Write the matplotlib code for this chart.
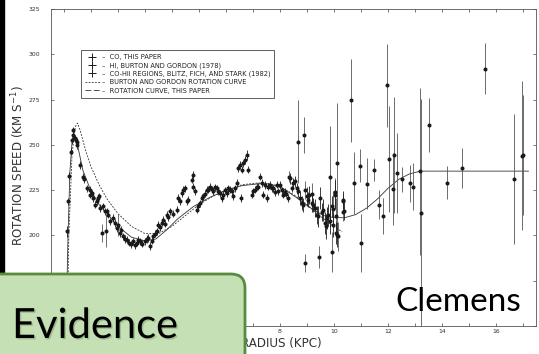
import matplotlib
matplotlib.use("Agg")
import matplotlib.pyplot as plt
from matplotlib.patches import FancyBboxPatch, Rectangle
from matplotlib.lines import Line2D
import matplotlib.patheffects as pe

# CO, this paper (R in kpc, V in km/s, error)
co_r = [0.10, 0.16, 0.19, 0.25, 0.31, 0.33, 0.35, 0.41, 0.44, 0.47,
        0.50, 0.59, 0.72, 0.75, 0.84, 0.96, 0.98, 1.02, 1.09, 1.15,
        1.21, 1.25, 1.28, 1.33, 1.46, 1.52, 1.58, 1.64, 1.70, 1.83,
        1.89, 1.95, 2.07, 2.13, 2.20, 2.26, 2.32, 2.40, 2.48, 2.57,
        2.62, 2.69, 2.75, 2.81, 2.90, 3.00, 3.06, 3.12, 3.19, 3.25,
        3.31, 3.37, 3.43, 3.49, 3.55, 3.62, 3.68, 3.74, 3.80, 3.86,
        3.93, 4.05, 4.17, 4.23, 4.30, 4.36, 4.42, 4.48, 4.54, 4.60,
        4.73, 4.79, 4.79, 4.85, 4.91, 4.97, 5.04, 5.10, 5.16, 5.22,
        5.28, 5.35, 5.41, 5.47, 5.53, 5.59, 5.65, 5.72, 5.78, 5.84,
        5.90, 5.96, 6.03, 6.09, 6.15, 6.21, 6.27, 6.33, 6.40, 6.46,
        6.52, 6.55, 6.58, 6.64, 6.70, 6.79, 6.83, 6.95, 7.01, 7.07,
        7.14, 7.20, 7.26, 7.32, 7.38, 7.44, 7.51, 7.57, 7.63, 7.69,
        7.75, 7.81, 7.88, 7.94, 8.00, 8.06, 8.12, 8.18, 8.24, 8.31,
        8.37, 8.43, 8.49, 8.56, 8.62, 8.68, 8.74, 8.80, 8.86, 8.99,
        9.05, 9.09, 9.17, 9.23, 9.30, 9.36, 9.42, 9.48, 9.54, 9.60,
        9.67, 9.70, 9.73, 9.79, 9.85, 9.91, 9.97, 10.04, 10.07, 10.10,
        10.32, 10.37]
co_v = [202.3, 218.8, 233.0, 246.2, 252.6, 255.4, 258.1, 253.6, 252.6, 251.7,
        249.9, 238.9, 232.5, 231.0, 226.1, 225.2, 222.4, 223.3, 220.6, 216.9,
        218.8, 220.6, 221.5, 215.1, 216.0, 213.3, 213.3, 211.4, 207.8, 209.6,
        206.9, 204.1, 201.4, 203.0, 199.5, 198.0, 197.7, 196.0, 195.0, 196.8,
        194.5, 195.9, 197.5, 196.8, 195.5, 196.8, 198.0, 198.6, 194.1, 197.0,
        199.5, 201.0, 202.3, 205.9, 204.5, 207.0, 208.7, 206.5, 211.4, 210.0,
        213.3, 212.0, 214.2, 220.6, 218.8, 223.3, 225.2, 226.1, 218.8, 219.7,
        230.7, 233.4, 227.0, 224.3, 214.2, 216.0, 217.8, 220.6, 221.5, 223.0,
        225.2, 225.2, 227.0, 225.5, 224.3, 226.5, 226.1, 224.3, 223.3, 220.6,
        222.4, 225.0, 223.3, 226.0, 225.2, 224.3, 221.5, 226.0, 229.0, 237.1,
        238.9, 220.6, 236.2, 239.8, 241.6, 244.4, 236.2, 222.4, 224.3, 225.2,
        227.0, 227.0, 232.5, 229.0, 222.4, 227.9, 220.6, 227.0, 227.9, 226.0,
        226.1, 224.0, 228.0, 224.3, 227.9, 225.0, 222.4, 224.0, 223.0, 220.6,
        231.6, 226.0, 228.8, 229.8, 226.1, 224.3, 220.6, 218.0, 216.9, 221.5,
        219.7, 222.4, 217.8, 216.9, 215.1, 211.4, 210.5, 220.6, 213.0, 214.2,
        206.9, 205.0, 209.6, 211.4, 208.0, 216.0, 205.9, 222.4, 201.4, 200.4,
        219.7, 213.3]
co_err = [3, 2, 2, 2, 2, 2, 2, 2, 2, 2,
          2, 2, 2, 2, 2, 2, 2, 2, 2, 2,
          2, 2, 2, 2, 2, 2, 2, 2, 2, 2,
          2, 2, 2, 2, 2, 2, 2, 2, 2, 2,
          2, 2, 2, 2, 2, 2, 2, 2, 2, 2,
          2, 2, 2, 2, 2, 2, 2, 2, 2, 2,
          2, 2, 2, 2, 2, 2, 2, 2, 2, 2,
          2, 2, 2, 2, 2, 2, 2, 2, 2, 2,
          2, 2, 2, 2, 2, 2, 2, 2, 2, 2,
          2, 2, 2, 2, 2, 2, 2, 2, 2, 2,
          2, 2, 2, 2, 2, 3, 2, 2, 2, 2,
          2, 2, 2, 2, 2, 2, 2, 2, 2, 2,
          2, 2, 2, 2, 2, 2, 2, 2, 2, 2,
          3, 2, 3, 3, 3, 3, 4, 4, 4, 5,
          4, 5, 5, 4, 5, 5, 6, 6, 5, 6,
          6, 7, 6, 6, 7, 6, 7, 8, 6, 7,
          5, 5]

# HI, Burton and Gordon (1978)
hi_r = [1.40, 1.56, 2.01, 8.33, 8.93, 9.17]
hi_v = [201.4, 202.6, 205.9, 232.3, 225.2, 223.0]
hi_err = [5, 9, 6, 3, 5, 6]

# CO-HII regions, Blitz, Fich and Stark (1982)
bfs_r = [8.68, 8.88, 8.93, 9.46, 9.85, 9.94, 9.98, 10.02, 10.07, 10.10,
         10.15, 10.32, 10.35, 10.62, 10.74, 10.96, 11.00, 11.21, 11.49, 11.68,
         11.80, 11.97, 12.05, 12.20, 12.22, 12.32, 12.52, 12.81, 12.94, 13.19,
         13.21, 13.50, 14.17, 14.73, 15.60, 16.67, 16.95, 17.00]
bfs_v = [251.7, 255.4, 184.9, 188.0, 232.5, 190.9, 214.7, 223.9, 210.5, 240.2,
         199.5, 219.1, 212.7, 274.6, 228.8, 238.5, 195.9, 228.5, 236.2, 216.9,
         210.9, 282.9, 242.2, 225.7, 244.4, 234.5, 230.9, 228.7, 226.8, 235.3,
         212.4, 260.9, 229.2, 237.0, 292.0, 231.2, 244.0, 244.5]
bfs_err = [23, 10, 5, 6, 28, 11, 10, 8, 10, 33,
           8, 4, 5, 23, 17, 9, 16, 14, 6, 8,
           10, 23, 29, 20, 32, 22, 7, 10, 13, 46,
           63, 15, 9, 11, 14, 36, 41, 33]

# Burton and Gordon rotation curve
bg_r = [0.12, 0.18, 0.30, 0.42, 0.50, 0.60, 0.80, 1.00, 1.30, 1.60, 2.00,
        2.50, 3.00, 3.50, 4.00, 4.50, 5.00, 5.50, 6.00, 6.60, 7.20, 7.80,
        8.30, 8.80, 9.30, 9.80, 10.30]
bg_v = [150, 200, 245, 260, 262, 258, 247, 238, 228, 220, 212,
        205, 201, 201, 205, 211, 217, 221.5, 225, 228, 229, 228,
        224.5, 219.5, 213, 207, 202]

# rotation curve, this paper
rc_r = [0.08, 0.15, 0.22, 0.30, 0.38, 0.50, 0.70, 0.96, 1.30, 1.60, 2.00,
        2.50, 3.00, 3.40, 3.80, 4.20, 4.80, 5.40, 6.00, 6.60, 7.20, 7.60,
        8.10, 8.60, 9.10, 9.60, 10.00, 10.40, 10.80, 11.20, 11.60, 12.00,
        12.40, 12.80, 13.20, 17.20]
rc_v = [150, 200, 235, 252, 256, 250, 236, 226, 217, 212, 205,
        199, 197, 198, 203, 209, 216, 221, 225, 227.5, 228.5, 228.5,
        226, 221, 215.5, 211, 209.8, 209.8, 211.5, 215, 220, 226,
        231, 234, 235.5, 235.5]

x_major = [0, 2, 4, 6, 8, 10, 12, 14, 16]
x_labels = ["", "", "", "", "8", "10", "12", "14", "16"]  # 0-6 sit under the box
x_minor = [1, 3, 5, 7, 9, 11, 13, 15, 17]
y_major = [150, 175, 200, 225, 250, 275, 300, 325]
y_labels = ["", "", "200", "225", "250", "275", "300", "325"]

W, H = 539, 354
fig = plt.figure(figsize=(W / 100, H / 100), dpi=100)
ax = fig.add_axes([51 / W, 28 / H, 485 / W, 317 / H])

ink = "#1a1a1a"
bar = "#555555"
ax.errorbar(bfs_r, bfs_v, yerr=bfs_err, fmt="o", ms=1.9, color=ink,
            ecolor=bar, elinewidth=0.6, capsize=0, zorder=3)
ax.errorbar(hi_r, hi_v, yerr=hi_err, fmt="o", ms=1.9, color=ink,
            ecolor=bar, elinewidth=0.6, capsize=0, zorder=3)
ax.errorbar(co_r, co_v, yerr=co_err, fmt="o", ms=1.9, color=ink,
            ecolor=ink, elinewidth=0.6, capsize=0, zorder=4)
ax.plot(bg_r, bg_v, color="#333333", lw=0.6, dashes=(2.2, 1.6), zorder=2)
ax.plot(rc_r, rc_v, color="#333333", lw=0.6, zorder=2)

ax.set_xlim(-0.48, 17.48)
ax.set_ylim(150, 325)
ax.set_xticks(x_major, x_labels)
ax.set_xticks(x_minor, minor=True)
ax.set_yticks(y_major, y_labels)
ax.tick_params(which="both", direction="in", top=True, right=True,
               length=2.4, width=0.5, color="#444444")
ax.tick_params(axis="both", labelsize=4.4, labelcolor="#333333")
ax.tick_params(axis="y", pad=8)
ax.tick_params(axis="x", pad=2)
for s in ax.spines.values():
    s.set_linewidth(0.6)
    s.set_color("#555555")

fig.text(18 / W, 1 - 166 / H, "ROTATION SPEED (KM S$^{-1}$)", fontsize=8.6,
         color="#333333", rotation=90, ha="center", va="center")
fig.text(281 / W, 1 - 343 / H, "RADIUS (KPC)", fontsize=8.6,
         color="#333333", ha="center", va="center")

# legend
handles = [
    Line2D([0], [0], color=ink, marker="+", ms=6, lw=0, markeredgewidth=0.7),
    Line2D([0], [0], color=ink, marker="+", ms=6, lw=0, markeredgewidth=0.7),
    Line2D([0], [0], color=ink, marker="+", ms=6, lw=0, markeredgewidth=0.7),
    Line2D([0], [0], color="#333333", lw=0.6, dashes=(2.2, 1.6)),
    Line2D([0], [0], color="#333333", lw=0.6, dashes=(7, 3)),
]
labels = [
    "\u2013  CO, THIS PAPER",
    "\u2013  HI, BURTON AND GORDON (1978)",
    "\u2013  CO-HII REGIONS, BLITZ, FICH, AND STARK (1982)",
    "\u2013  BURTON AND GORDON ROTATION CURVE",
    "\u2013  ROTATION CURVE, THIS PAPER",
]
leg = ax.legend(handles, labels, loc="upper left",
                bbox_to_anchor=(0.062, 0.871), fontsize=4.8,
                frameon=True, fancybox=False, framealpha=1,
                edgecolor="#444444", handlelength=2.2, handletextpad=0.3,
                labelspacing=0.33, borderpad=0.6, borderaxespad=0)
leg.get_frame().set_linewidth(0.6)
for t in leg.get_texts():
    t.set_color("#222222")

# dark strip at left edge
fig.patches.append(Rectangle((0, 80 / 100), 4 / 100, 2.8, color="black",
                             transform=fig.dpi_scale_trans, zorder=5))

# green label box
box = FancyBboxPatch((-0.3, -0.3), 2.75, 1.1,
                     boxstyle="round,pad=0,rounding_size=0.14",
                     facecolor="#c5e0b4", edgecolor="#5a8a3c", linewidth=2,
                     transform=fig.dpi_scale_trans, zorder=10)
fig.patches.append(box)
fig.text(0.12, 0.16, "Evidence", fontsize=30, family="Lato", color="black",
         va="baseline", ha="left", transform=fig.dpi_scale_trans, zorder=11,
         path_effects=[pe.withSimplePatchShadow(offset=(1, -1),
                                                shadow_rgbFace="#7a9a6a",
                                                alpha=0.5)])
fig.text(3.95, 0.43, "Clemens", fontsize=24, family="Lato", color="black",
         va="baseline", ha="left", transform=fig.dpi_scale_trans, zorder=11)

fig.savefig("out.png", dpi=100)
